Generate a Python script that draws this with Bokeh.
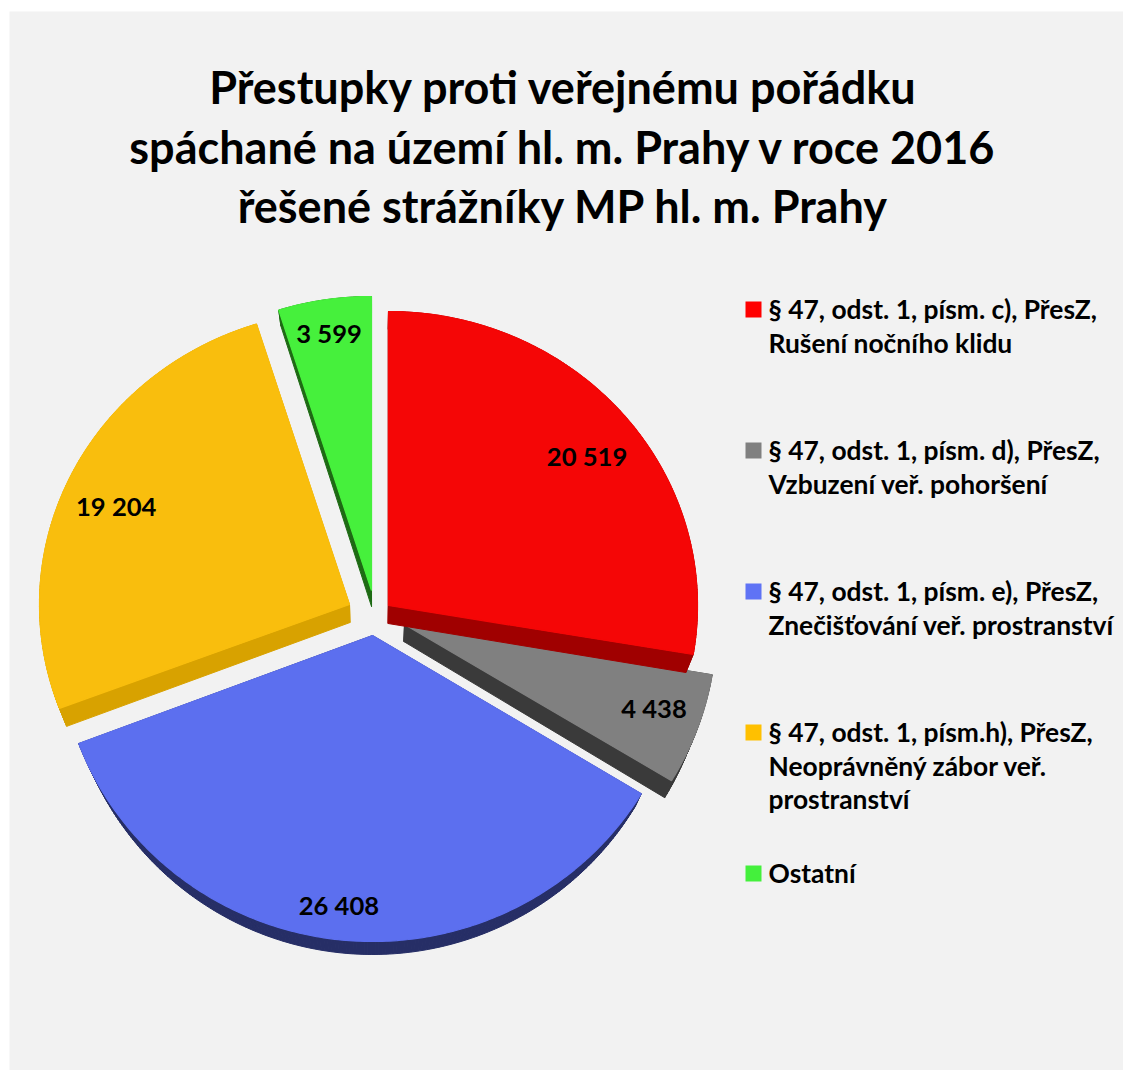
import numpy as np
from bokeh.plotting import figure
from bokeh.models import Range1d
from bokeh.core.properties import value
from bokeh.embed import file_html
from bokeh.resources import INLINE

# --- data
categories = ["§ 47, odst. 1, písm. c), PřesZ,\nRušení nočního klidu",
              "§ 47, odst. 1, písm. d), PřesZ,\nVzbuzení veř. pohoršení",
              "§ 47, odst. 1, písm. e), PřesZ,\nZnečišťování veř. prostranství",
              "§ 47, odst. 1, písm.h), PřesZ,\nNeoprávněný zábor veř.\nprostranství",
              "Ostatní"]
values = [20519, 4438, 26408, 19204, 3599]
value_labels = ["20 519", "4 438", "26 408", "19 204", "3 599"]
title_lines = ["Přestupky proti veřejnému pořádku",
               "spáchané na území hl. m. Prahy v roce 2016",
               "řešené strážníky MP hl. m. Prahy"]

# --- styles and layout
top_colors = ["#F50606", "#808080", "#5C6FEF", "#F9BE0D", "#46F03C"]
side_colors = ["#A00000", "#3A3A3A", "#262E66", "#D8A200", "#1E6A14"]
swatch_colors = ["#FF0000", "#808080", "#5F73F5", "#FFC000", "#44F03C"]
apex_x = [388, 404, 372, 349, 371]
apex_y = [605, 624, 635, 604, 590]
depths = [18, 17, 13, 18, 16]
radius_x = [309, 312, 314, 310, 309]
radius_down = [294, 302, 306, 294, 294]
draw_order = [4, 3, 1, 0, 2]
R_UP, SIDE_SHRINK, PERSP_X = 294, 0.977, 372
label_r = [0.820, 0.846, 0.888, 0.824, 0.885]
label_turn = [1.8, -1.3, 1.7, -1.9, -0.2]
legend_y = [309, 450, 591, 732, 873]
LINE_H = 33.7

p = figure(width=1123, height=1070, output_backend="svg", toolbar_location=None,
           x_range=Range1d(0, 1123), y_range=Range1d(1070, 0), min_border=0,
           background_fill_color="white", border_fill_color="white", outline_line_color=None)
p.axis.visible = False
p.grid.visible = False
p.quad(left=[9], right=[1123], top=[11], bottom=[1070], fill_color="#F2F2F2", line_color=None)

font = value("Lato")
ends = np.cumsum(values) / sum(values) * 360
starts = np.concatenate([[0], ends[:-1]])

def rim(cx, cy, rx_, rd_, a0, a1):
    th = np.radians(np.linspace(a0, a1, max(8, int((a1 - a0) * 1.5))))
    c = np.cos(th)
    return cx + rx_ * np.sin(th), cy - np.where(c > 0, R_UP, rd_) * c

for i in draw_order:
    rx, ry = rim(apex_x[i], apex_y[i], radius_x[i], radius_down[i], starts[i], ends[i])
    x = np.concatenate([[apex_x[i]], rx])
    y = np.concatenate([[apex_y[i]], ry])
    sx = PERSP_X + (x - PERSP_X) * SIDE_SHRINK
    sy = y + depths[i]
    n = len(x)
    xs = [[x[k], x[(k + 1) % n], sx[(k + 1) % n], sx[k]] for k in range(n)]
    ys = [[y[k], y[(k + 1) % n], sy[(k + 1) % n], sy[k]] for k in range(n)]
    p.patches(xs, ys, fill_color=side_colors[i], line_color=side_colors[i], line_width=1)
    p.patch(x, y, fill_color=top_colors[i], line_color=top_colors[i], line_width=1.2)

mid = (starts + ends) / 2 + np.array(label_turn)
lx = np.array(apex_x) + np.array(radius_x) * np.array(label_r) * np.sin(np.radians(mid))
cosm = np.cos(np.radians(mid))
ly = np.array(apex_y) - np.where(cosm > 0, R_UP, np.array(radius_down)) * np.array(label_r) * cosm
p.text(lx, ly, text=value_labels, text_font=font, text_font_style="bold", text_font_size="25.6px",
       text_align="center", text_baseline="middle", text_color="#000000")

p.text([563, 563, 563], [86, 146, 205], text=title_lines, text_font=font, text_font_style="bold",
       text_font_size="45px", text_align="center", text_baseline="middle", text_color="#000000")

p.rect([753] * 5, legend_y, width=16, height=16, fill_color=swatch_colors, line_color=None)
tx, ty, tt = [], [], []
for c, y0 in zip(categories, legend_y):
    for j, line in enumerate(c.split("\n")):
        tx.append(768); ty.append(y0 - 0.5 + j * LINE_H); tt.append(line)
p.text(tx, ty, text=tt, text_font=font, text_font_style="bold", text_font_size="26.4px",
       text_align="left", text_baseline="middle", text_color="#000000")

open("out.html", "w").write(file_html(p, INLINE))
